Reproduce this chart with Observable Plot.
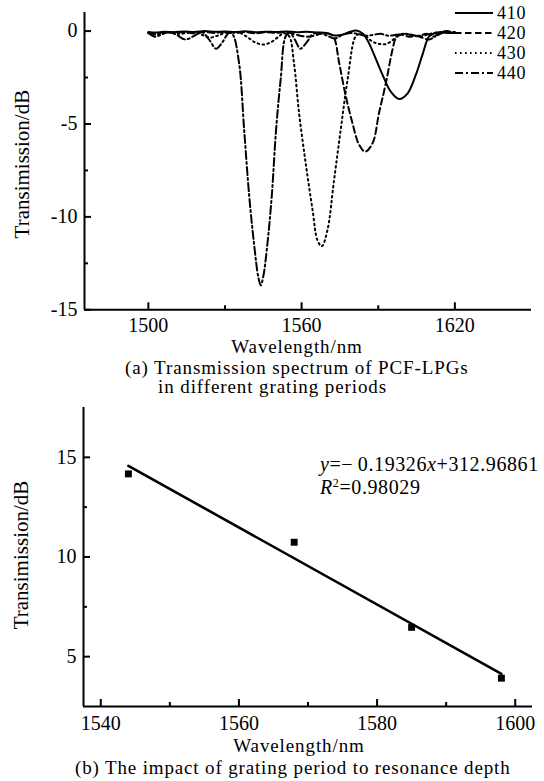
<!DOCTYPE html>
<html><head><meta charset="utf-8">
<script src="https://cdn.jsdelivr.net/npm/d3@7"></script>
<script src="https://cdn.jsdelivr.net/npm/@observablehq/plot@0.6"></script>
<style>
body{margin:0;background:#fff;}
#wrap{position:relative;width:544px;height:781px;font-family:"Liberation Serif","Times New Roman",serif;color:#000;overflow:hidden;}
.abs{position:absolute;white-space:nowrap;}
#wrap svg{position:absolute;}
</style></head><body><div id="wrap"></div>
<script>
// ---------- data: (a) transmission spectra ----------
const periods = ["410", "420", "430", "440"];
const wl410 = [1500,1503,1506,1510,1514,1518,1522,1526,1530,1534,1538,1542,1546,1550,1554,1558,1562,1566,1570,1573,1576,1579,1581.5,1584,1586,1588.4,1591.7,1594.9,1598.2,1601.5,1604.7,1607.3,1609.9,1612,1614.5,1617,1620];
const t410  = [-0.05,-0.08,-0.03,-0.06,-0.02,-0.05,0,-0.04,-0.02,-0.05,-0.01,-0.06,-0.03,-0.05,-0.02,-0.06,-0.03,-0.07,-0.12,-0.24,-0.2,-0.03,0.03,-0.15,-0.55,-1.28,-2.36,-3.26,-3.66,-3.35,-2.36,-1.28,-0.29,-0.12,-0.06,-0.1,-0.1];
const wl420 = [1500,1503,1506,1510,1514,1518,1522,1526,1530,1534,1538,1542,1546,1550,1554,1558,1562,1565,1568,1571,1572.7,1574.7,1577.3,1579.9,1582.5,1584.9,1587.8,1590.3,1593,1595.6,1597,1599,1602,1605,1608,1610,1612,1614,1617,1620];
const t420  = [-0.1,-0.15,-0.06,-0.1,-0.05,-0.12,-0.05,-0.1,-0.04,-0.1,-0.05,-0.12,-0.06,-0.1,-0.05,-0.2,-0.3,-0.25,-0.12,-0.15,-0.36,-1.71,-3.51,-4.95,-6.12,-6.49,-6.03,-4.41,-2.79,-0.99,-0.36,-0.2,-0.3,-0.25,-0.4,-0.45,-0.3,-0.08,0,-0.1];
const wl430 = [1500,1503,1506,1509,1512,1515,1518,1521,1524,1527,1530,1533,1536,1539,1542,1545,1548,1551,1553,1555.1,1557,1559,1561.6,1564.3,1566.2,1567.9,1570.1,1572.7,1575.3,1578,1581.2,1583,1585,1587.5,1590,1593,1595.5,1597.5,1600,1603,1606,1609,1612,1615,1620];
const t430  = [-0.1,-0.2,-0.1,-0.05,-0.15,-0.1,-0.05,-0.2,-0.35,-0.25,-0.1,-0.05,-0.1,-0.35,-0.62,-0.72,-0.6,-0.3,-0.12,-0.27,-1.71,-4.41,-7.11,-9.64,-11.26,-11.58,-10.72,-8.02,-5.31,-2.61,-0.27,-0.15,-0.25,-0.55,-0.68,-0.7,-0.5,-0.25,-0.15,-0.2,-0.3,-0.2,-0.1,-0.05,-0.1];
const wl440 = [1500,1502.5,1505,1508,1511,1514.5,1518,1521,1524,1526.5,1529,1531.5,1533,1535.5,1537.5,1539.5,1541.5,1543,1544,1545,1546.5,1548.3,1550,1551.8,1553.8,1555.5,1557.5,1559.5,1562,1564.5,1567,1570,1573,1576,1579,1582,1585,1588,1591,1594,1597,1600,1603,1606,1609,1612,1615,1618,1620];
const t440  = [-0.1,-0.3,-0.2,-0.05,-0.2,-0.45,-0.25,-0.05,-0.5,-0.95,-0.6,-0.1,-0.18,-1.71,-5.31,-8.9,-11.6,-13.2,-13.69,-13.2,-11.6,-8.9,-5.31,-2.6,-0.27,-0.1,-0.5,-0.95,-0.6,-0.15,-0.1,-0.25,-0.4,-0.2,-0.1,-0.15,-0.25,-0.2,-0.15,-0.25,-0.2,-0.15,-0.2,-0.25,-0.15,-0.3,-0.1,-0.05,-0.05];

const topXTicks = [1500, 1560, 1620];
const topXMinor = [1530, 1590];
const topYTicks = [0, -5, -10, -15];
const topYMinor = [-2.5, -7.5, -12.5];

// ---------- data: (b) resonance depth ----------
const resonanceWavelength = [1544, 1568, 1585, 1598];
const resonanceDepth = [14.17, 10.74, 6.47, 3.92];
const botXTicks = [1540, 1560, 1580, 1600];
const botXMinor = [1550, 1570, 1590];
const botYTicks = [5, 10, 15];
const botYMinor = [7.5, 12.5];

const xTitle = "Wavelength/nm";
const yTitle = "Transimission/dB";
const captionA1 = "(a) Transmission spectrum of PCF-LPGs";
const captionA2 = "in different grating periods";
const captionB = "(b) The impact of grating period to resonance depth";
const fitSlope = "0.19326", fitIntercept = "312.96861", fitR2 = "0.98029";

// ---------- build ----------
const series = {"410": [wl410, t410], "420": [wl420, t420], "430": [wl430, t430], "440": [wl440, t440]};
const spectra = periods.flatMap(p => series[p][0].map((w, i) => ({period: p, wl: w, t: series[p][1][i]})));
const dashes = {"410": null, "420": "6.5,3.5", "430": "1.6,3.4", "440": "8,3,2,3"};
const fontFamily = "Liberation Serif, Times New Roman, serif";
const font = {fontFamily, fontSize: "20px", color: "#000", background: "transparent", overflow: "visible"};
const wrap = document.getElementById("wrap");

const topPlot = Plot.plot({
  width: 544, height: 360,
  marginLeft: 84, marginRight: 13, marginTop: 12, marginBottom: 50.7,
  style: font,
  x: {domain: [1475, 1650]},
  y: {domain: [-15, 1]},
  marks: [
    ...periods.map(p => Plot.line(spectra.filter(d => d.period === p), {
      x: "wl", y: "t", stroke: "#000", strokeWidth: 2, strokeDasharray: dashes[p], curve: "catmull-rom"
    })),
    Plot.ruleX([1475], {strokeWidth: 2}),
    Plot.ruleY([-15], {strokeWidth: 2}),
    Plot.axisX(topXTicks, {tickSize: -7, tickPadding: 15, strokeWidth: 2, label: null, tickFormat: d => String(d)}),
    Plot.axisX(topXMinor, {tickSize: -4, strokeWidth: 2, label: null, tickFormat: () => ""}),
    Plot.axisY(topYTicks, {tickSize: -7, tickPadding: 14, strokeWidth: 2, label: null, tickFormat: d => String(d)}),
    Plot.axisY(topYMinor, {tickSize: -4, strokeWidth: 2, label: null, tickFormat: () => ""}),
    Plot.text([xTitle], {text: d => d, frameAnchor: "bottom", dy: 43.5, dx: -11, lineAnchor: "bottom", fontSize: 19}),
    Plot.text([yTitle], {text: d => d, frameAnchor: "left", textAnchor: "middle", rotate: -90, dx: -62, dy: 3, fontSize: 21})
  ]
});
topPlot.style.top = "0px";
topPlot.style.left = "0px";
wrap.appendChild(topPlot);

const points = resonanceWavelength.map((w, i) => ({wl: w, depth: resonanceDepth[i]}));
const botPlot = Plot.plot({
  width: 544, height: 360,
  marginLeft: 83, marginRight: 12, marginTop: 12, marginBottom: 49,
  style: font,
  x: {domain: [1537.5, 1602.5]},
  y: {domain: [2.5, 17.5]},
  marks: [
    Plot.ruleX([1537.5], {strokeWidth: 2}),
    Plot.ruleY([2.5], {strokeWidth: 2}),
    Plot.linearRegressionY(points, {x: "wl", y: "depth", ci: 0, stroke: "#000", strokeWidth: 2.6}),
    Plot.dot(points, {x: "wl", y: "depth", symbol: "square", r: 3.9, fill: "#000", stroke: "none"}),
    Plot.axisX(botXTicks, {tickSize: -7, tickPadding: 16.5, strokeWidth: 2, label: null, tickFormat: d => String(d)}),
    Plot.axisX(botXMinor, {tickSize: -4, strokeWidth: 2, label: null, tickFormat: () => ""}),
    Plot.axisY(botYTicks, {tickSize: -7, tickPadding: 14, strokeWidth: 2, label: null, tickFormat: d => String(d)}),
    Plot.axisY(botYMinor, {tickSize: -4, strokeWidth: 2, label: null, tickFormat: () => ""}),
    Plot.text([xTitle], {text: d => d, frameAnchor: "bottom", dy: 45.5, dx: -9, lineAnchor: "bottom", fontSize: 19}),
    Plot.text([yTitle], {text: d => d, frameAnchor: "left", textAnchor: "middle", rotate: -90, dx: -62, dy: -2, fontSize: 21})
  ]
});
botPlot.style.top = "395px";
botPlot.style.left = "0px";
wrap.appendChild(botPlot);

// widen the axis titles slightly so they span the same width as in the reference
[topPlot, botPlot].forEach(svg => d3.select(svg).selectAll("text")
  .filter(function () { return this.textContent === xTitle; })
  .style("letter-spacing", "0.9px"));

// legend for (a)
const leg = d3.create("svg").attr("width", 104).attr("height", 90)
  .style("left", "440px").style("top", "0px").style("overflow", "visible");
const rowY = i => 13.1 + i * 20;
periods.forEach((p, i) => {
  leg.append("line").attr("x1", 15).attr("x2", 53).attr("y1", rowY(i)).attr("y2", rowY(i))
    .attr("stroke", "#000").attr("stroke-width", 2).attr("stroke-dasharray", dashes[p]);
  leg.append("text").attr("x", 57).attr("y", rowY(i)).attr("dy", "0.35em")
    .attr("font-family", fontFamily).attr("font-size", 18).attr("fill", "#000")
    .style("letter-spacing", "0.8px").text(p);
});
wrap.appendChild(leg.node());

function addBlock(html, left, firstBaseline, fontSize, lineHeight, extra) {
  const d = document.createElement("div");
  d.className = "abs";
  d.innerHTML = html;
  d.style.left = left + "px";
  d.style.fontSize = fontSize + "px";
  d.style.lineHeight = lineHeight + "px";
  // Liberation Serif: ascent 0.891em, descent 0.216em
  const baselineInBox = (lineHeight - 1.107 * fontSize) / 2 + 0.891 * fontSize;
  d.style.top = (firstBaseline - baselineInBox) + "px";
  if (extra) Object.assign(d.style, extra);
  wrap.appendChild(d);
}
addBlock(`${captionA1}<br>${captionA2}`, 125, 374, 19, 19.5, {paddingLeft: "33px", textIndent: "-33px", letterSpacing: "0.9px"});
addBlock(captionB, 75, 773.5, 19, 21, {letterSpacing: "0.85px"});
addBlock(`<i>y</i>=\u2212\u2009${fitSlope}<i>x</i>+${fitIntercept}<br><i>R</i><sup style="font-size:12px;vertical-align:7px;line-height:0">2</sup>=${fitR2}`, 320, 471.3, 20, 22.4, {letterSpacing: "0.6px"});
</script></body></html>
